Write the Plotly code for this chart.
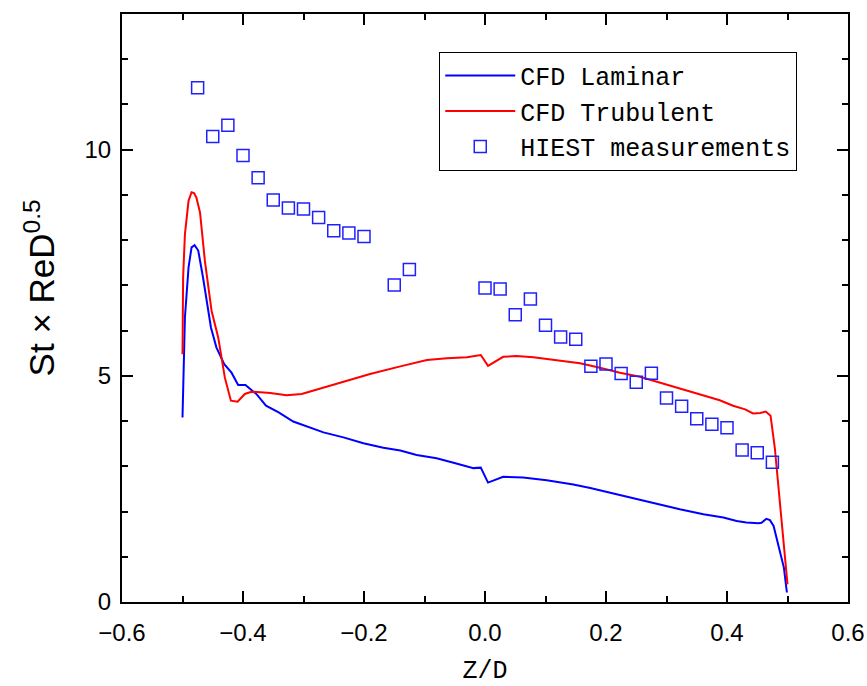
import plotly.graph_objects as go

lam_x = [-0.500, -0.499, -0.496, -0.490, -0.485, -0.480, -0.474, -0.466, -0.453, -0.444,
         -0.431, -0.419, -0.408, -0.396, -0.378, -0.362, -0.341, -0.317, -0.295, -0.267,
         -0.234, -0.201, -0.168, -0.140, -0.113, -0.080, -0.052, -0.019, -0.007, 0.005,
         0.030, 0.063, 0.102, 0.146, 0.174, 0.212, 0.245, 0.284, 0.322, 0.361,
         0.394, 0.416, 0.432, 0.452, 0.457, 0.465, 0.471, 0.477, 0.482, 0.488,
         0.494, 0.499]
lam_y = [4.08, 4.82, 6.29, 7.40, 7.84, 7.89, 7.77, 7.17, 6.07, 5.63,
         5.26, 5.07, 4.80, 4.80, 4.60, 4.34, 4.19, 3.99, 3.88, 3.75,
         3.64, 3.51, 3.41, 3.35, 3.25, 3.18, 3.08, 2.96, 2.97, 2.64,
         2.77, 2.75, 2.69, 2.60, 2.52, 2.40, 2.28, 2.16, 2.05, 1.94,
         1.87, 1.79, 1.76, 1.74, 1.75, 1.84, 1.81, 1.68, 1.42, 1.06,
         0.76, 0.21]

tur_x = [-0.500, -0.499, -0.496, -0.490, -0.485, -0.481, -0.477, -0.471, -0.463, -0.452,
         -0.441, -0.430, -0.420, -0.409, -0.397, -0.386, -0.355, -0.328, -0.303, -0.273,
         -0.245, -0.218, -0.190, -0.140, -0.096, -0.063, -0.030, -0.007, 0.005, 0.030,
         0.052, 0.080, 0.118, 0.157, 0.190, 0.223, 0.256, 0.289, 0.322, 0.361,
         0.388, 0.410, 0.430, 0.443, 0.455, 0.464, 0.472, 0.479, 0.488, 0.494,
         0.500]
tur_y = [5.48, 7.17, 8.13, 8.87, 9.06, 9.04, 8.94, 8.61, 7.54, 6.44,
         5.85, 4.96, 4.45, 4.43, 4.60, 4.65, 4.62, 4.57, 4.60, 4.72,
         4.82, 4.93, 5.04, 5.21, 5.35, 5.39, 5.41, 5.46, 5.22, 5.42,
         5.44, 5.41, 5.35, 5.28, 5.18, 5.07, 4.98, 4.85, 4.73, 4.58,
         4.46, 4.34, 4.26, 4.17, 4.18, 4.21, 4.12, 3.41, 2.16, 1.20,
         0.39]

exp_x = [-0.475, -0.450, -0.425, -0.400, -0.375, -0.350, -0.325, -0.300, -0.275, -0.250,
         -0.225, -0.200, -0.150, -0.125, 0.000, 0.025, 0.050, 0.075, 0.100, 0.125,
         0.150, 0.175, 0.200, 0.225, 0.250, 0.275, 0.300, 0.325, 0.350, 0.375,
         0.400, 0.425, 0.450, 0.475]
exp_y = [11.37, 10.29, 10.54, 9.87, 9.38, 8.89, 8.71, 8.69, 8.50, 8.21,
         8.16, 8.08, 7.01, 7.35, 6.94, 6.92, 6.35, 6.70, 6.12, 5.86,
         5.81, 5.21, 5.26, 5.05, 4.86, 5.06, 4.51, 4.33, 4.05, 3.93,
         3.85, 3.36, 3.30, 3.09]

SANS = "Liberation Sans"
MONO = "Liberation Mono"

fig = go.Figure()
fig.add_trace(go.Scatter(x=lam_x, y=lam_y, mode="lines", name="CFD Laminar",
                         line=dict(color="#0000FF", width=2)))
fig.add_trace(go.Scatter(x=tur_x, y=tur_y, mode="lines", name="CFD Trubulent",
                         line=dict(color="#FF0000", width=2)))
fig.add_trace(go.Scatter(x=exp_x, y=exp_y, mode="markers", name="HIEST measurements",
                         marker=dict(symbol="square-open", size=12, color="#2020FF",
                                     line=dict(width=1.5, color="#2020FF"))))

axis_common = dict(showline=True, linewidth=2, linecolor="black", mirror="allticks",
                   ticks="inside", ticklen=11, tickwidth=1.5, tickcolor="black",
                   showgrid=False, zeroline=False, automargin=False,
                   tickfont=dict(family=SANS, size=24, color="black"))

fig.update_xaxes(range=[-0.6, 0.6], dtick=0.2, tick0=-0.6, tickformat=".1f",
                 ticklabelstandoff=8,
                 minor=dict(ticks="inside", ticklen=6, dtick=0.1, tickwidth=1.5, tickcolor="black"),
                 title=dict(text="Z/D", font=dict(family=MONO, size=25, color="black"), standoff=18),
                 **axis_common)
fig.update_yaxes(range=[0, 13], dtick=5, tick0=0,
                 ticklabelstandoff=4,
                 minor=dict(ticks="inside", ticklen=6, dtick=1, tickwidth=1.5, tickcolor="black"),
                 **axis_common)

fig.add_annotation(text="St × ReD<sup>0.5</sup>", textangle=-90,
                   xref="paper", yref="paper", x=-0.113, y=0.535,
                   xanchor="center", yanchor="middle", showarrow=False,
                   font=dict(family=SANS, size=35, color="black"))

fig.update_layout(
    width=867, height=686,
    margin=dict(l=122, r=19, t=14, b=84),
    plot_bgcolor="white", paper_bgcolor="white",
    showlegend=True,
    legend=dict(x=0.437, y=0.936, xanchor="left", yanchor="top",
                bordercolor="black", borderwidth=1, bgcolor="white",
                font=dict(family=MONO, size=25, color="black"),
                itemwidth=70, tracegroupgap=0),
)

fig.write_html("out.html")
